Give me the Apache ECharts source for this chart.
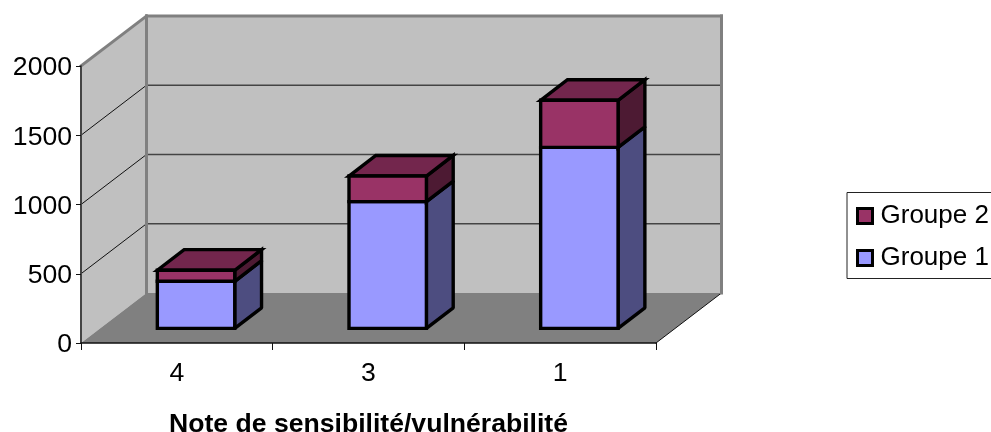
<!DOCTYPE html>
<html>
<head>
<meta charset="utf-8">
<style>html,body{margin:0;padding:0;background:#fff}#c{width:991px;height:432px}</style>
<script src="https://cdn.jsdelivr.net/npm/echarts@6/dist/echarts.min.js"></script>
</head>
<body>
<div id="c"></div>
<script>
// Note values and stacked counts per group
const categories = ['4', '3', '1'];
const groupe1 = [340, 915, 1307];
const groupe2 = [80, 185, 340];
const yTicks = [0, 500, 1000, 1500, 2000];

// Oblique projection used to fake the 3D box
const WALL_DX = 65.5, WALL_DY = -50;
const BAR_DX = 26.8, BAR_DY = -20.6;
const BAR_SHIFT_X = 19.2, BAR_SHIFT_Y = -14.6, BAR_W = 77.4;
const FONT = '"Liberation Sans", Arial, sans-serif';

const chart = echarts.init(document.getElementById('c'), null, { renderer: 'canvas' });

function poly(points, fill, stroke, lineWidth, join) {
  return {
    type: 'polygon',
    shape: { points },
    style: { fill, stroke: stroke || 'none', lineWidth: lineWidth || 0, lineJoin: join || 'miter', miterLimit: 6 }
  };
}
function line(a, b, stroke, lineWidth) {
  return {
    type: 'line',
    shape: { x1: a[0], y1: a[1], x2: b[0], y2: b[1] },
    style: { stroke, lineWidth, lineCap: 'square' }
  };
}

// Side wall, back wall, floor and gridlines
function renderRoom(params, api) {
  const cs = params.coordSys;
  const left = cs.x, right = cs.x + cs.width;
  const y0 = api.coord([0, 0])[1], yMax = api.coord([0, 2000])[1];
  const back = (x, y) => [x + WALL_DX, y + WALL_DY];
  const kids = [];
  kids.push(poly([[left, y0], [left, yMax], back(left, yMax), back(left, y0)], '#C0C0C0'));
  kids.push(poly([back(left, y0), back(left, yMax), back(right, yMax), back(right, y0)], '#C0C0C0'));
  kids.push(poly([[left, y0], [right, y0], back(right, y0), back(left, y0)], '#808080'));
  yTicks.slice(1, -1).forEach(v => {
    const y = api.coord([0, v])[1];
    kids.push(line([left, y], back(left, y), '#111', 1));
    kids.push(line(back(left, y), back(right, y), '#444', 1.5));
  });
  kids.push(line([right, y0], back(right, y0), '#111', 1));
  kids.push(line([left, yMax], back(left, yMax), '#808080', 3));
  kids.push(line(back(left, yMax), back(right, yMax), '#808080', 3));
  kids.push(line(back(left, yMax), back(left, y0), '#808080', 3));
  kids.push(line(back(right, yMax), back(right, y0), '#808080', 3));
  return { type: 'group', children: kids };
}

// One stacked block: right face, front face, and a top face only on the uppermost block
function renderBlock(front, side, top) {
  return function (params, api) {
    const c = api.value(0), base = api.value(1), total = base + api.value(2);
    const a = api.coord([c, base]), b = api.coord([c, total]);
    const x0 = a[0] + BAR_SHIFT_X - BAR_W / 2, x1 = x0 + BAR_W;
    const yb = a[1] + BAR_SHIFT_Y, yt = b[1] + BAR_SHIFT_Y;
    const d = (x, y) => [x + BAR_DX, y + BAR_DY];
    const children = [poly([[x1, yb], d(x1, yb), d(x1, yt), [x1, yt]], side, '#000', 3.4, top ? 'miter' : 'bevel')];
    if (top) {
      children.push(poly([[x0, yt], [x1, yt], d(x1, yt), d(x0, yt)], top, '#000', 3.4));
    }
    children.push(poly([[x0, yb], [x1, yb], [x1, yt], [x0, yt]], front, '#000', 3.4));
    return { type: 'group', children };
  };
}

const base1 = categories.map(() => 0);
chart.setOption({
  animation: false,
  backgroundColor: '#fff',
  grid: { left: 81, top: 66, width: 575, height: 277, containLabel: false, outerBoundsMode: 'none' },
  legend: {
    orient: 'vertical',
    left: 847,
    top: 192.5,
    padding: [10.5, 10, 7.5, 9],
    itemGap: 16,
    itemWidth: 15,
    itemHeight: 15,
    icon: 'rect',
    borderColor: '#222',
    borderWidth: 1,
    backgroundColor: '#fff',
    selectedMode: false,
    textStyle: { fontFamily: FONT, fontSize: 26, color: '#000', padding: [0, 0, 0, 3] },
    data: [
      { name: 'Groupe 2', itemStyle: { color: '#993366', borderColor: '#000', borderWidth: 3 } },
      { name: 'Groupe 1', itemStyle: { color: '#9999FF', borderColor: '#000', borderWidth: 3 } }
    ]
  },
  xAxis: {
    type: 'category',
    data: categories,
    z: 5,
    name: 'Note de sensibilité/vulnérabilité',
    nameLocation: 'middle',
    nameGap: 68,
    nameTextStyle: { fontFamily: FONT, fontSize: 26.6, fontWeight: 'bold', color: '#000' },
    axisLine: { lineStyle: { color: '#111', width: 1.5 } },
    axisTick: { show: true, length: 7, alignWithLabel: false, lineStyle: { color: '#111', width: 1 } },
    axisLabel: { fontFamily: FONT, fontSize: 26.6, color: '#000', margin: 17 },
    splitLine: { show: false }
  },
  yAxis: {
    type: 'value',
    min: 0,
    max: 2000,
    interval: 500,
    z: 5,
    axisLine: { show: true, lineStyle: { color: '#444', width: 2 } },
    axisTick: { show: true, length: 5, lineStyle: { color: '#111', width: 1 } },
    axisLabel: {
      color: '#000',
      margin: 9,
      formatter: v => '{n|' + v + '}',
      rich: { n: { fontFamily: FONT, fontSize: 26.6, color: '#000', padding: [4, 0, 0, 0] } }
    },
    splitLine: { show: false }
  },
  series: [
    {
      type: 'custom',
      name: 'Parois',
      z: 1,
      clip: false,
      silent: true,
      renderItem: renderRoom,
      data: [[0, 0]]
    },
    {
      type: 'custom',
      name: 'Groupe 1',
      z: 6,
      clip: false,
      itemStyle: { color: '#9999FF' },
      renderItem: renderBlock('#9999FF', '#4D4D80', null),
      encode: { x: 0, y: [1, 2] },
      data: categories.map((_, i) => [i, base1[i], groupe1[i]])
    },
    {
      type: 'custom',
      name: 'Groupe 2',
      z: 7,
      clip: false,
      itemStyle: { color: '#993366' },
      renderItem: renderBlock('#993366', '#4D1A33', '#73264D'),
      encode: { x: 0, y: [1, 2] },
      data: categories.map((_, i) => [i, groupe1[i], groupe2[i]])
    }
  ]
});
</script>
</body>
</html>
